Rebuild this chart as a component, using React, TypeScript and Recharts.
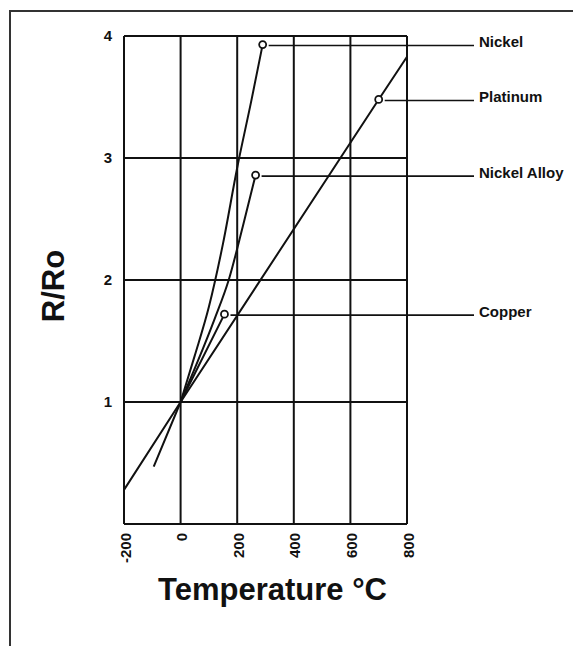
import { LineChart, Line, XAxis, YAxis, CartesianGrid, Label } from 'recharts';

// readings taken off the scanned figure
const tempTicks = [-200, 0, 200, 400, 600, 800];
const ratioTicks = [1, 2, 3, 4];

const nickelTemp = [0, 50, 100, 150, 200, 250, 290];
const nickelRatio = [1, 1.38, 1.78, 2.3, 2.92, 3.47, 3.93];

const platinumTemp = [-200, 0, 700, 800];
const platinumRatio = [0.28, 1, 3.48, 3.83];

const alloyTemp = [0, 60, 120, 170, 220, 265];
const alloyRatio = [1, 1.33, 1.68, 2, 2.44, 2.86];

const copperTemp = [-95, 0, 155];
const copperRatio = [0.47, 1, 1.72];

// temperature where each series carries its labelled marker
const markerTemp = { Nickel: 290, Platinum: 700, 'Nickel Alloy': 265, Copper: 155 };

const FONT = '"Liberation Sans", Arial, Helvetica, sans-serif';
const LEADER_END = 474;
const NAME_X = 479;

const zip = (ts: number[], rs: number[]) => ts.map((t, i) => ({ t, r: rs[i] }));

const series = [
  { name: 'Nickel', data: zip(nickelTemp, nickelRatio), type: 'monotone' },
  { name: 'Platinum', data: zip(platinumTemp, platinumRatio), type: 'linear' },
  { name: 'Nickel Alloy', data: zip(alloyTemp, alloyRatio), type: 'monotone' },
  { name: 'Copper', data: zip(copperTemp, copperRatio), type: 'linear' },
];

const markerDot = (name: string) => (props: any) => {
  const { cx, cy, payload, index } = props;
  if (payload.t !== (markerTemp as any)[name]) return <g key={`${name}-${index}`} />;
  return (
    <g key={`${name}-${index}`}>
      <line x1={cx + 6} y1={cy + 1} x2={LEADER_END} y2={cy + 1} stroke="#111" strokeWidth={1.6} />
      <circle cx={cx} cy={cy} r={3.5} fill="#fff" stroke="#111" strokeWidth={1.8} />
      <text
        x={NAME_X}
        y={cy - 3}
        dominantBaseline="central"
        fontFamily={FONT}
        fontWeight={700}
        fontSize={15}
        fill="#111"
      >
        {name}
      </text>
    </g>
  );
};

const XTick = (props: any) => {
  const { x, y, payload } = props;
  return (
    <text
      x={x + 1}
      y={y}
      transform={`rotate(-90 ${x + 1} ${y})`}
      textAnchor="end"
      dominantBaseline="central"
      fontFamily={FONT}
      fontWeight={700}
      fontSize={15}
      fill="#111"
    >
      {payload.value}
    </text>
  );
};

const YTitle = (props: any) => {
  const vb = props.viewBox;
  const x = vb.x + 53;
  const y = vb.y + vb.height / 2 + 6;
  return (
    <text
      x={x}
      y={y}
      transform={`rotate(-90 ${x} ${y})`}
      textAnchor="middle"
      dominantBaseline="central"
      fontFamily={FONT}
      fontWeight={700}
      fontSize={31}
      fill="#111"
    >
      R/Ro
    </text>
  );
};

const XTitle = (props: any) => {
  const vb = props.viewBox;
  return (
    <text
      x={vb.x + vb.width / 2 + 7}
      y={vb.y + 76}
      textAnchor="middle"
      fontFamily={FONT}
      fontWeight={700}
      fontSize={31}
      fill="#111"
    >
      Temperature °C
    </text>
  );
};

export default function App() {
  return (
    <div style={{ position: 'absolute', left: 0, top: 0, width: 573, height: 646, background: '#fff' }}>
      <div
        style={{
          position: 'absolute',
          left: 9,
          top: 10,
          width: 564,
          height: 636,
          borderLeft: '2px solid #333',
          borderTop: '2px solid #333',
        }}
      />
      <div style={{ position: 'absolute', left: 0, top: 0 }}>
        <LineChart width={573} height={646} margin={{ top: 36, right: 166, bottom: 32, left: 0 }}>
          <CartesianGrid stroke="#111" strokeWidth={2} />
          <XAxis
            type="number"
            dataKey="t"
            domain={[-200, 800]}
            ticks={tempTicks}
            interval={0}
            height={90}
            tickSize={0}
            tickLine={false}
            tickMargin={9}
            tick={<XTick />}
            axisLine={{ stroke: '#111', strokeWidth: 2 }}
          >
            <Label content={<XTitle />} />
          </XAxis>
          <YAxis
            type="number"
            dataKey="r"
            domain={[0, 4]}
            ticks={ratioTicks}
            interval={0}
            width={124}
            tickSize={0}
            tickLine={false}
            tickMargin={12}
            tick={{ fill: '#111', fontSize: 15, fontWeight: 700, fontFamily: FONT }}
            axisLine={{ stroke: '#111', strokeWidth: 2 }}
          >
            <Label content={<YTitle />} />
          </YAxis>
          {series.map((s) => (
            <Line
              key={s.name}
              data={s.data}
              dataKey="r"
              name={s.name}
              type={s.type as any}
              stroke="#111"
              strokeWidth={2}
              dot={markerDot(s.name)}
              activeDot={false}
              isAnimationActive={false}
            />
          ))}
        </LineChart>
      </div>
    </div>
  );
}
